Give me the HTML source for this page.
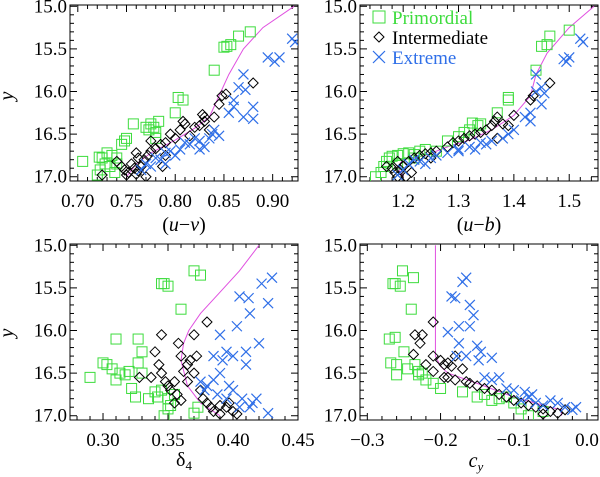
<!DOCTYPE html>
<html><head><meta charset="utf-8">
<style>
html,body{margin:0;padding:0;background:#fff;font-family:"Liberation Serif","Times New Roman",Times,"DejaVu Serif",serif;}
svg{display:block;}
</style></head>
<body>
<svg id="chart" width="600" height="477" viewBox="0 0 600 477" xmlns="http://www.w3.org/2000/svg"></svg>
<script>
// ---- data (x, y pairs per panel per population) ----
const p1GreenX=[0.705,0.722,0.725,0.73,0.735,0.72,0.723,0.728,0.733,0.74,0.745,0.75,0.748,0.757,0.77,0.773,0.775,0.78,0.783,0.778,0.8,0.803,0.808,0.84,0.85,0.853,0.857,0.865,0.877,0.78,0.74,0.738];
const p1GreenY=[16.82,16.77,16.78,16.72,16.75,16.98,16.92,16.85,16.88,16.78,16.62,16.55,16.58,16.38,16.42,16.45,16.38,16.48,16.35,16.42,16.25,16.07,16.1,15.75,15.48,15.47,15.45,15.35,15.3,16.55,16.85,16.95];
const p1BlackX=[0.725,0.74,0.745,0.748,0.752,0.755,0.758,0.76,0.762,0.765,0.77,0.768,0.772,0.775,0.78,0.785,0.79,0.795,0.8,0.805,0.81,0.808,0.815,0.82,0.825,0.828,0.83,0.835,0.84,0.845,0.848,0.852,0.88,0.79,0.775,0.76,0.83,0.787,0.762,0.75];
const p1BlackY=[16.98,16.82,16.88,16.92,16.95,16.85,16.9,16.97,16.93,16.88,17.0,16.8,16.75,16.7,16.67,16.62,16.6,16.5,16.55,16.45,16.38,16.35,16.52,16.42,16.4,16.27,16.35,16.45,16.3,16.15,16.05,16.03,15.9,16.75,16.58,16.72,16.3,16.88,16.78,16.98];
const p1BlueX=[0.765,0.77,0.775,0.78,0.785,0.79,0.795,0.8,0.805,0.81,0.815,0.82,0.825,0.83,0.835,0.838,0.845,0.84,0.855,0.86,0.86,0.865,0.87,0.872,0.87,0.88,0.88,0.895,0.902,0.907,0.92,0.923,0.825,0.79];
const p1BlueY=[16.92,16.85,16.88,16.78,16.8,16.72,16.7,16.75,16.68,16.6,16.62,16.55,16.58,16.65,16.55,16.5,16.52,16.45,16.25,16.18,16.1,15.95,15.8,15.98,16.3,16.32,16.18,15.6,15.65,15.6,15.38,15.42,16.68,16.85];
const p1LineX=[0.75,0.76,0.775,0.8,0.82,0.835,0.845,0.855,0.87,0.89,0.922];
const p1LineY=[17.0,16.85,16.72,16.57,16.43,16.3,16.05,15.8,15.5,15.25,15.0];

const p2GreenX=[1.15,1.16,1.165,1.17,1.175,1.18,1.19,1.2,1.21,1.22,1.23,1.24,1.26,1.28,1.3,1.31,1.32,1.325,1.335,1.34,1.37,1.39,1.39,1.44,1.45,1.46,1.465,1.5,1.22,1.19];
const p2GreenY=[17.0,16.95,16.88,16.82,16.78,16.76,16.75,16.73,16.72,16.74,16.7,16.68,16.7,16.58,16.53,16.48,16.45,16.37,16.4,16.38,16.25,16.1,16.07,15.75,15.47,15.45,15.35,15.28,16.78,16.85];
const p2BlackX=[1.17,1.18,1.185,1.19,1.195,1.2,1.21,1.205,1.215,1.22,1.23,1.24,1.25,1.26,1.28,1.29,1.3,1.31,1.32,1.33,1.34,1.35,1.36,1.365,1.37,1.38,1.39,1.4,1.43,1.435,1.465,1.37,1.25,1.19];
const p2BlackY=[16.88,16.9,16.95,17.0,16.92,16.88,16.82,17.0,16.95,16.78,16.75,16.73,16.72,16.7,16.65,16.6,16.58,16.55,16.52,16.5,16.48,16.45,16.4,16.35,16.3,16.38,16.4,16.28,16.1,16.05,15.9,16.55,16.78,16.82];
const p2BlueX=[1.19,1.2,1.21,1.22,1.23,1.25,1.26,1.28,1.3,1.32,1.33,1.34,1.35,1.36,1.38,1.39,1.4,1.42,1.43,1.43,1.44,1.45,1.455,1.45,1.44,1.49,1.495,1.5,1.52,1.525,1.24,1.3];
const p2BlueY=[16.98,16.92,16.85,16.8,16.82,16.78,16.75,16.72,16.68,16.65,16.68,16.6,16.62,16.58,16.55,16.5,16.45,16.3,16.25,16.35,16.0,15.95,16.02,16.15,15.8,15.62,15.65,15.6,15.38,15.42,16.85,16.7];
const p2LineX=[1.2,1.19,1.2,1.24,1.28,1.32,1.36,1.4,1.43,1.44,1.46,1.5,1.545];
const p2LineY=[17.0,16.88,16.8,16.75,16.65,16.57,16.45,16.28,16.05,15.8,15.55,15.25,15.0];

const p3GreenX=[0.29,0.30,0.303,0.307,0.31,0.313,0.31,0.317,0.32,0.322,0.325,0.327,0.327,0.33,0.33,0.335,0.34,0.342,0.345,0.347,0.35,0.347,0.35,0.352,0.355,0.36,0.37,0.375,0.37,0.373,0.345,0.35];
const p3GreenY=[16.55,16.38,16.4,16.45,16.58,16.5,16.1,16.52,16.48,16.68,16.78,16.1,16.38,16.25,16.5,16.8,16.72,16.78,15.45,15.45,15.48,17.0,16.92,16.88,16.75,15.75,15.3,15.35,16.97,16.9,16.7,16.8];
const p3BlackX=[0.328,0.337,0.34,0.343,0.345,0.345,0.348,0.35,0.352,0.355,0.357,0.358,0.36,0.36,0.362,0.365,0.367,0.37,0.37,0.372,0.375,0.377,0.38,0.38,0.383,0.385,0.39,0.395,0.4,0.403,0.397,0.365,0.355,0.39];
const p3BlackY=[16.55,16.55,16.25,16.4,16.05,16.5,16.6,16.65,16.7,16.6,16.75,16.15,16.3,16.82,16.48,16.4,16.35,16.05,16.5,16.3,16.7,16.8,15.9,16.85,16.9,16.95,16.98,16.9,16.95,16.98,16.85,16.6,16.85,16.88];
const p3BlueX=[0.375,0.378,0.38,0.385,0.388,0.39,0.39,0.392,0.395,0.397,0.4,0.4,0.403,0.405,0.405,0.407,0.41,0.412,0.413,0.413,0.415,0.42,0.422,0.427,0.43,0.427,0.41,0.395,0.385,0.418];
const p3BlueY=[16.6,16.7,16.65,16.58,16.75,16.5,16.05,16.35,16.25,16.65,16.7,16.3,15.95,15.6,16.9,16.8,16.25,15.62,15.8,16.9,16.85,16.15,15.45,15.68,15.38,16.97,16.4,16.8,16.3,16.8];
const p3LineX=[0.39,0.375,0.365,0.36,0.362,0.366,0.375,0.39,0.405,0.42];
const p3LineY=[17.0,16.85,16.65,16.35,16.15,16.0,15.8,15.55,15.3,15.0];

const p4GreenX=[-0.265,-0.262,-0.255,-0.252,-0.237,-0.24,-0.27,-0.262,-0.25,-0.268,-0.26,-0.26,-0.245,-0.235,-0.23,-0.225,-0.22,-0.21,-0.2,-0.15,-0.14,-0.13,-0.12,-0.1,-0.09,-0.08,-0.06,-0.11,-0.17,-0.23];
const p4GreenY=[15.45,15.45,15.48,15.3,15.38,15.75,16.1,16.08,16.25,16.38,16.4,16.52,16.45,16.4,16.52,16.5,16.58,16.62,16.68,16.78,16.75,16.82,16.8,16.85,16.92,17.0,16.95,16.78,16.72,16.48];
const p4BlackX=[-0.21,-0.235,-0.225,-0.228,-0.237,-0.22,-0.21,-0.2,-0.195,-0.19,-0.185,-0.18,-0.19,-0.18,-0.17,-0.165,-0.16,-0.15,-0.14,-0.13,-0.12,-0.11,-0.1,-0.09,-0.08,-0.07,-0.06,-0.05,-0.04,-0.03,-0.06,-0.21,-0.195];
const p4BlackY=[15.9,16.05,16.05,16.15,16.28,16.4,16.3,16.35,16.4,16.38,16.42,16.3,16.55,16.58,16.45,16.6,16.62,16.65,16.68,16.7,16.75,16.78,16.82,16.85,16.88,16.9,16.92,16.95,16.97,16.93,16.98,16.48,16.55];
const p4BlueX=[-0.185,-0.18,-0.17,-0.165,-0.16,-0.155,-0.19,-0.175,-0.16,-0.175,-0.178,-0.165,-0.15,-0.145,-0.148,-0.13,-0.14,-0.13,-0.12,-0.11,-0.1,-0.085,-0.08,-0.075,-0.07,-0.06,-0.05,-0.04,-0.03,-0.02,-0.015,-0.09];
const p4BlueY=[15.6,15.62,15.43,15.38,15.7,15.82,16.02,15.95,15.95,16.15,16.3,16.3,16.18,16.25,16.35,16.32,16.55,16.58,16.55,16.68,16.7,16.72,16.78,16.75,16.85,16.88,16.82,16.85,16.9,16.93,16.9,16.82];
const p4LineX=[-0.207,-0.207,-0.2,-0.19,-0.15,-0.1,-0.05,-0.035,-0.035];
const p4LineY=[15.0,16.3,16.42,16.5,16.62,16.78,16.9,16.93,17.0];

const yTickLabels=["15.0","15.5","16.0","16.5","17.0"];
const p1TickLabels=["0.70","0.75","0.80","0.85","0.90"];
const p2TickLabels=["1.2","1.3","1.4","1.5"];
const p3TickLabels=["0.30","0.35","0.40","0.45"];
const p4TickLabels=["\u22120.3","\u22120.2","\u22120.1","0.0"];

const NS="http://www.w3.org/2000/svg";
const svg=document.getElementById('chart');
function mk(tag,attrs,parent){const e=document.createElementNS(NS,tag);for(const k in attrs)e.setAttribute(k,attrs[k]);if(tag==='text')e.setAttribute('font-family','Liberation Serif, Times New Roman, Times, serif');(parent||svg).appendChild(e);return e;}
const GREEN="#3ddc3d",BLUE="#2f6fe8",MAG="#e050e0";

const panels=[
 {name:'uv',L:70,R:298,T:5,B:181,x0:0.692,x1:0.926,major:0.05,minor:0.01,labels:p1TickLabels,
  G:[p1GreenX,p1GreenY],K:[p1BlackX,p1BlackY],Bl:[p1BlueX,p1BlueY],Ln:[p1LineX,p1LineY]},
 {name:'ub',L:360,R:598,T:5,B:181,x0:1.122,x1:1.552,major:0.1,minor:0.02,labels:p2TickLabels,
  G:[p2GreenX,p2GreenY],K:[p2BlackX,p2BlackY],Bl:[p2BlueX,p2BlueY],Ln:[p2LineX,p2LineY]},
 {name:'delta4',L:70,R:298,T:244,B:420,x0:0.2746,x1:0.45,major:0.05,minor:0.01,labels:p3TickLabels,
  G:[p3GreenX,p3GreenY],K:[p3BlackX,p3BlackY],Bl:[p3BlueX,p3BlueY],Ln:[p3LineX,p3LineY]},
 {name:'cy',L:360,R:598,T:244,B:420,x0:-0.31,x1:0.015,major:0.1,minor:0.02,labels:p4TickLabels,
  G:[p4GreenX,p4GreenY],K:[p4BlackX,p4BlackY],Bl:[p4BlueX,p4BlueY],Ln:[p4LineX,p4LineY]}
];
const Y0=14.985,Y1=17.05;

panels.forEach(p=>{
 const g=mk('g',{});
 
 
 const sx=v=>p.L+(v-p.x0)/(p.x1-p.x0)*(p.R-p.L);
 const sy=v=>p.T+(v-Y0)/(Y1-Y0)*(p.B-p.T);
 const clip='clip-'+p.name;
 const cp=mk('clipPath',{id:clip},g);mk('rect',{x:p.L,y:p.T,width:p.R-p.L,height:p.B-p.T},cp);
 const frame=mk('rect',{x:p.L,y:p.T,width:p.R-p.L,height:p.B-p.T,fill:'none',stroke:'#000','stroke-width':1},g);
 
 
 for(let v=15.0;v<=17.0001;v+=0.1){
  const y=sy(v);const maj=Math.abs(v*2-Math.round(v*2))<1e-6;const len=maj?7:4;
  mk('line',{x1:p.L,x2:p.L+len,y1:y,y2:y,stroke:'#000','stroke-width':1},g);
  mk('line',{x1:p.R,x2:p.R-len,y1:y,y2:y,stroke:'#000','stroke-width':1},g);
 }
 yTickLabels.forEach((s,i)=>{
  const t=mk('text',{x:p.L-3,y:sy(15+0.5*i)+6,'text-anchor':'end','font-size':19},g);t.textContent=s;
  
  
 });
 const start=Math.ceil(p.x0/p.minor-1e-6)*p.minor;
 for(let v=start;v<=p.x1+1e-9;v+=p.minor){
  const r=v/p.major;const maj=Math.abs(r-Math.round(r))<1e-4;const len=maj?7:4;const x=sx(v);
  mk('line',{x1:x,x2:x,y1:p.B,y2:p.B-len,stroke:'#000','stroke-width':1},g);
  mk('line',{x1:x,x2:x,y1:p.T,y2:p.T+len,stroke:'#000','stroke-width':1},g);
 }
 const firstMaj=parseFloat(p.labels[0].replace('\u2212','-'));
 p.labels.forEach((s,i)=>{
  const t=mk('text',{x:sx(firstMaj+p.major*i),y:p.B+26,'text-anchor':'middle','font-size':19},g);t.textContent=s;
  
  
 });
 const dg=mk('g',{'clip-path':'url(#'+clip+')'},g);
 const pts=p.Ln[0].map((x,i)=>sx(x)+','+sy(p.Ln[1][i])).join(' ');
 const pl=mk('polyline',{points:pts,fill:'none',stroke:MAG,'stroke-width':1},dg);
 
 
 p.G[0].forEach((x,i)=>{const cx=sx(x),cy=sy(p.G[1][i]);
  const r=mk('rect',{x:cx-5,y:cy-5,width:10,height:10,fill:'none',stroke:GREEN,'stroke-width':1},dg);
  
  });
 p.K[0].forEach((x,i)=>{const cx=sx(x),cy=sy(p.K[1][i]);
  const d=mk('polygon',{points:`${cx},${cy-5} ${cx+5},${cy} ${cx},${cy+5} ${cx-5},${cy}`,fill:'none',stroke:'#000','stroke-width':1},dg);
  
  });
 p.Bl[0].forEach((x,i)=>{const cx=sx(x),cy=sy(p.Bl[1][i]);
  const c=mk('path',{d:`M${cx-5},${cy-5}L${cx+5},${cy+5}M${cx-5},${cy+5}L${cx+5},${cy-5}`,stroke:BLUE,'stroke-width':1.2,fill:'none'},dg);
  
  });
});

function label(txt,x,y,attrs,name){const t=mk('text',Object.assign({x:x,y:y,'font-size':20},attrs||{}));t.innerHTML=txt;
 
 return t;}
label('y',13,96,{'font-style':'italic','text-anchor':'middle',transform:'rotate(-90 13 96)'},'y-axis-title-top');
label('y',13,333,{'font-style':'italic','text-anchor':'middle',transform:'rotate(-90 13 333)'},'y-axis-title-bottom');
label('(<tspan font-style="italic">u</tspan>\u2212<tspan font-style="italic">v</tspan>)',184,231,{'text-anchor':'middle'},'x-axis-title-uv');
label('(<tspan font-style="italic">u</tspan>\u2212<tspan font-style="italic">b</tspan>)',479,231,{'text-anchor':'middle'},'x-axis-title-ub');
label('\u03b4<tspan font-size="13" dy="4">4</tspan>',184,466,{'text-anchor':'middle'},'x-axis-title-delta4');
label('<tspan font-style="italic">c</tspan><tspan font-size="13" dy="4" font-style="italic">y</tspan>',476,467,{'text-anchor':'middle'},'x-axis-title-cy');

const lg=mk('g',{});


const items=[['Primordial',GREEN,'sq',23],['Intermediate','#000','di',43],['Extreme',BLUE,'x',63]];
items.forEach(([t,c,m,y])=>{
 const cx=379,cy=y-6;
 if(m==='sq')mk('rect',{x:cx-6,y:cy-6,width:12,height:12,fill:'none',stroke:c},lg);
 if(m==='di')mk('polygon',{points:`${cx},${cy-5} ${cx+5},${cy} ${cx},${cy+5} ${cx-5},${cy}`,fill:'none',stroke:c},lg);
 if(m==='x')mk('path',{d:`M${cx-6},${cy-6}L${cx+6},${cy+6}M${cx-6},${cy+6}L${cx+6},${cy-6}`,stroke:c,'stroke-width':1.2},lg);
 const tx=mk('text',{x:392,y:y+1,fill:c,'font-size':19},lg);tx.textContent=t;
 
 
});
</script>
</body></html>
